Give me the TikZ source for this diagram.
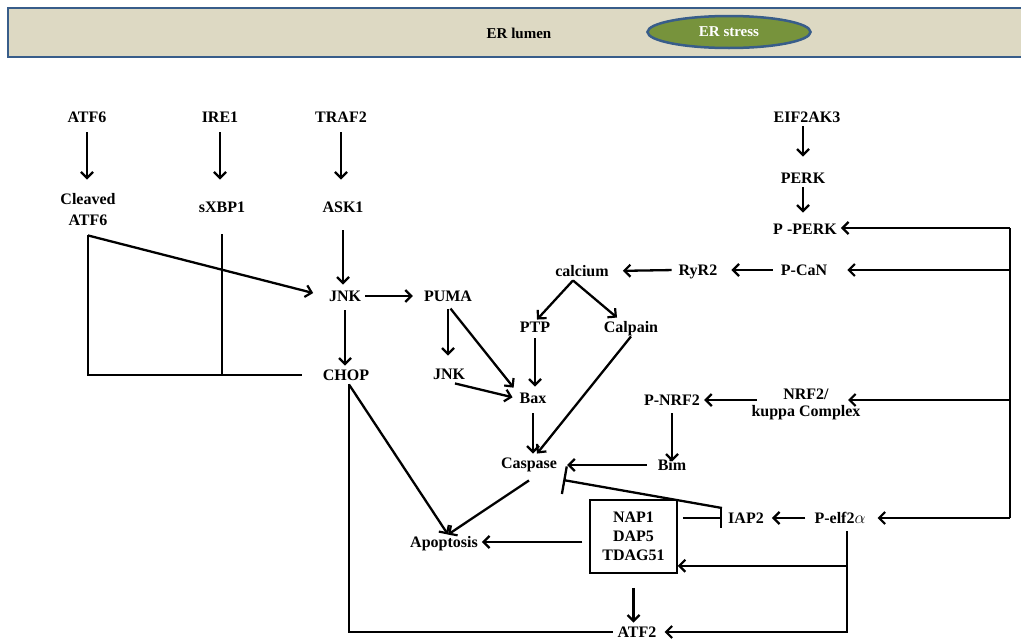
\documentclass[tikz,border=0pt]{standalone}
\usepackage{fontspec}
\setmainfont{Liberation Serif}
\usetikzlibrary{arrows.meta, shapes.geometric}
\definecolor{hdrfill}{HTML}{DDD9C3}
\definecolor{hdredge}{HTML}{385D8A}
\definecolor{stressfill}{HTML}{77933C}
\tikzset{
  lbl/.style={font=\fontsize{16}{19}\selectfont\bfseries, inner sep=4pt, text height=10.5pt, text depth=0pt, align=center},
  arr/.style={line width=2.3pt, -{Straight Barb[length=6pt,width=12pt,line width=2.2pt]}},
  blk/.style={line width=2.3pt, -{Bar[width=#1,line width=2.3pt]}},
  plain/.style={line width=2.3pt},
}

\begin{document}
\begin{tikzpicture}[x=1pt,y=-1pt]
  \useasboundingbox (0,0) rectangle (1021,640);
  % ER lumen band
  \fill[hdrfill] (8,8) rectangle (1030,57);
  \draw[hdredge, line width=2.5pt] (1030,8) -- (8,8) -- (8,57) -- (1030,57);
  \node[font=\fontsize{15}{17}\selectfont\bfseries] (lumen) at (519,33) {ER lumen};
  \node[ellipse, fill=stressfill, draw=hdredge, line width=2.5pt, minimum width=163pt, minimum height=32pt,
        text=white, font=\fontsize{15}{17}\selectfont\bfseries] (stress) at (729,32) {ER stress};

  % upstream sensors
  \node[lbl] (atf)  at (87,117)  {ATF6};
  \node[lbl] (ire)  at (220,117) {IRE1};
  \node[lbl] (traf) at (341,117) {TRAF2};
  \node[lbl, font=\fontsize{16}{21}\selectfont\bfseries, text height=31.5pt] (catf) at (88,209.5) {Cleaved\\ATF6};
  \node[lbl] (sxbp) at (222,207) {sXBP1};
  \node[lbl] (ask)  at (343,207) {ASK1};
  \node[lbl] (jnk)  at (345,296) {JNK};
  \node[lbl] (puma) at (448,296) {PUMA};
  \node[lbl] (chop) at (346,375) {CHOP};
  \node[lbl] (jnkb) at (449,374) {JNK};

  % PERK branch
  \node[lbl] (eif)   at (807,117) {EIF2AK3};
  \node[lbl] (perk)  at (803,178) {PERK};
  \node[lbl] (pperk) at (805,229) {P -PERK};
  \node[lbl] (pcan)  at (804,270) {P-CaN};
  \node[lbl] (ryr)   at (698,270) {RyR2};
  \node[lbl] (calcium) at (582,271) {calcium};
  \node[lbl] (ptp)   at (535,327) {PTP};
  \node[lbl] (calpain) at (631,327) {Calpain};
  \node[lbl] (bax)   at (533,398) {Bax};
  \node[lbl] (pnrf)  at (672,400) {P-NRF2};
  \node[lbl, font=\fontsize{16}{17}\selectfont\bfseries, text height=27.5pt] (nrf) at (806,402.5) {NRF2/\\kuppa Complex};
  \node[lbl] (caspase) at (529,463) {Caspase};
  \node[lbl] (bim)   at (672,465) {Bim};
  \node[lbl] (iap)   at (746,518) {IAP2};
  \node[lbl] (pelf)  at (840,518) {P-elf2$\alpha$};
  \node[lbl, draw, line width=1.5pt, minimum width=87pt, minimum height=73pt,
        font=\fontsize{16}{19}\selectfont\bfseries, text height=48.5pt] (napbox) at (633.5,536.5) {NAP1\\DAP5\\TDAG51};
  \node[lbl] (apoptosis) at (444,542) {Apoptosis};
  \node[lbl] (atftwo) at (637,632) {ATF2};

  % left column
  \draw[arr, shorten <=6pt, shorten >=10pt] (atf.south) -- (atf.south |- catf.north);
  \draw[arr, shorten <=6pt, shorten >=18pt] (ire.south) -- (ire.south |- sxbp.north);
  \draw[arr, shorten <=6pt, shorten >=18pt] (traf.south) -- (traf.south |- ask.north);
  \draw[arr, shorten <=14pt, shorten >=2pt] (ask.south) -- (ask.south |- jnk.north);
  \draw[arr, shorten <=5pt] (jnk.south) -- (jnk.south |- chop.north);
  \coordinate (catfbase) at ([yshift=-6pt]catf.south);
  \draw[arr, shorten >=12pt] (catfbase) -- (jnk.west);
  \draw[plain] (catfbase) -- (catfbase |- chop) -- ([xshift=-17pt]chop.west);
  \draw[plain] ([yshift=-18pt]sxbp.south) -- (sxbp.south |- chop);
  \draw[arr, shorten >=7pt] (jnk.east) -- (puma.west);
  \draw[arr, shorten <=4pt, shorten >=9pt] (puma.south) -- (puma.south |- jnkb.north);
  \draw[arr, shorten <=4pt, shorten >=3pt] (puma.south) -- ([yshift=8pt]bax.west);
  \draw[arr, shorten >=3pt] ([xshift=6pt]jnkb.south) -- (bax.west);
  \coordinate (chopfoot) at ([xshift=3pt]chop.south);
  \draw[arr] (chopfoot) -- ([xshift=4pt,yshift=-2pt]apoptosis.north);
  \draw[plain] (chopfoot) |- (atftwo.west);

  % calcium branch
  \draw[arr, shorten <=4pt, shorten >=10pt] (pcan.west) -- (ryr.east);
  \draw[arr, shorten <=3pt, shorten >=10pt] (ryr.west) -- (calcium.east);
  \coordinate (cafork) at ([xshift=-9pt]calcium.south);
  \draw[arr] (cafork) -- ([xshift=2pt,yshift=-2pt]ptp.north);
  \draw[arr] (cafork) -- ([xshift=-14pt]calpain.north);
  \draw[arr, shorten <=2pt, shorten >=2pt] (ptp.south) -- (ptp.south |- bax.north);
  \draw[arr, shorten <=6pt] (bax.south) -- (bax.south |- caspase.north);
  \draw[arr] (calpain.south) -- ([xshift=8pt]caspase.north);
  \draw[arr] ([yshift=-8pt]caspase.south) -- ([xshift=4pt,yshift=-2pt]apoptosis.north);

  % PERK chain
  \draw[arr, shorten >=12pt] (perk.north |- eif.south) -- (perk.north);
  \draw[arr, shorten >=7pt] (perk.south) -- (perk.south |- pperk.north);
  \coordinate (bustop) at (1010,228);
  \draw[plain] (bustop) -- (bustop |- pelf);
  \draw[arr] (bustop) -- (bustop -| pperk.east);
  \draw[arr, shorten >=16pt] (bustop |- pcan) -- (pcan.east);
  \draw[arr] (bustop |- pnrf) -- ([xshift=42pt]nrf.center |- pnrf);
  \draw[arr, shorten >=8pt] (bustop |- pelf) -- (pelf.east);
  \draw[arr] ([xshift=-49pt]nrf.center |- pnrf) -- (pnrf.east);
  \draw[arr, shorten <=4pt] (pnrf.south) -- ([yshift=-6pt]bim.north);
  \draw[arr, shorten >=6pt] ([xshift=-7pt]bim.west) -- (caspase.east |- bim);

  % inhibition and lower part
  \draw[blk=28pt] ([xshift=-2pt,yshift=10pt]iap.west) -- ([xshift=2pt,yshift=-17pt]caspase.east);
  \draw[blk=20pt] ([xshift=5pt]napbox.east |- iap) -- ([xshift=-2pt]iap.west);
  \draw[arr, shorten >=4pt] ([xshift=-5pt]pelf.west) -- (iap.east);
  \draw[arr] ([xshift=-7pt]napbox.west |- apoptosis) -- (apoptosis.east);
  \coordinate (pelfdrop) at ([xshift=7pt,yshift=-4pt]pelf.south);
  \draw[arr] (pelfdrop) |- ([yshift=8pt]napbox.south east);
  \draw[arr, shorten >=4pt] (pelfdrop) |- (atftwo.east);
  \draw[arr, shorten <=14pt] (napbox.south) -- (napbox.south |- atftwo.north);
\end{tikzpicture}
\end{document}
